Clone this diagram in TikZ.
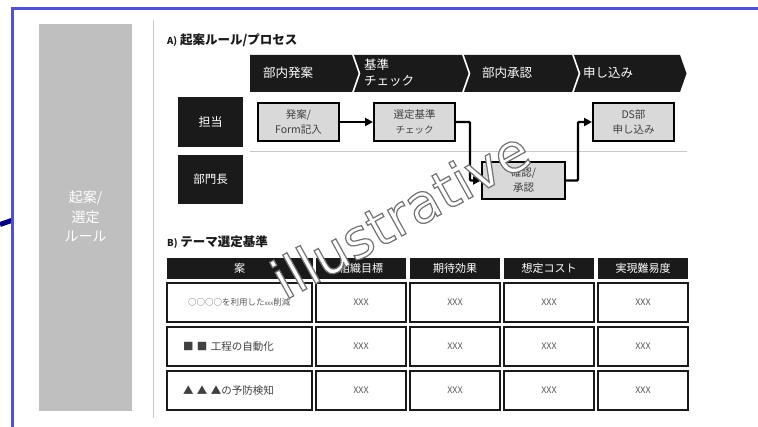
\documentclass[tikz,border=0pt]{standalone}
\usepackage{fontspec}
\setmainfont{Noto Sans CJK JP}
\newfontfamily\wmfont{DejaVu Sans}
\usetikzlibrary{arrows.meta}
\definecolor{cdark}{HTML}{1A1A1A}
\definecolor{cproc}{HTML}{D9D9D9}
\definecolor{cpanel}{HTML}{BFBFBF}
\definecolor{cframe}{HTML}{5252CC}
\definecolor{cnavy}{HTML}{00007F}
\definecolor{ctext}{HTML}{404040}
\definecolor{cxxx}{HTML}{595959}
\definecolor{csep}{HTML}{C8C8C8}
\tikzset{
  chevtxt/.style={text=white, font=\fontsize{12.5}{16}\selectfont, anchor=west, align=left, inner sep=0pt},
  rolebox/.style={fill=cdark, text=white, minimum width=65pt, minimum height=49pt, inner sep=0pt, font=\fontsize{12}{14}\selectfont},
  procbox/.style={draw=black, line width=2pt, fill=cproc, minimum width=81pt, minimum height=38pt, inner sep=0pt, align=center, text=ctext, font=\fontsize{10.5}{15}\selectfont},
  flow/.style={line width=2.2pt, -{Triangle[length=8pt,width=8pt]}},
  hdrcell/.style={fill=cdark, text=white, minimum height=21pt, inner sep=0pt, font=\fontsize{11}{13}\selectfont},
  datacell/.style={draw=cdark, line width=2pt, fill=white, minimum height=39pt, minimum width=90pt, inner sep=0pt, text=cxxx, font=\fontsize{9}{11}\selectfont},
  firstcell/.style={draw=cdark, line width=2pt, fill=white, minimum height=39pt, text width=113pt, inner xsep=16pt, inner ysep=0pt, align=left, text=ctext},
  titletxt/.style={anchor=west, inner sep=0pt, font=\fontsize{12.5}{14}\selectfont\bfseries, text=cdark},
  wm/.style={rotate=29, font=\wmfont\fontsize{54}{60}\selectfont, inner sep=0pt, text=white}
}
\begin{document}
\begin{tikzpicture}[x=1pt,y=-1pt]
\useasboundingbox (0,0) rectangle (758,427);
\fill[white] (0,0) rectangle (758,427);

% left navy stroke and blue frame
\coordinate (n1) at (0,224.5);
\coordinate (n2) at (13,220);
\draw[cnavy, line width=5pt] (n1) -- (n2);
\coordinate (f1) at (12.5,427);
\coordinate (f2) at (12.5,8.5);
\coordinate (f3) at (758,8.5);
\draw[cframe, line width=3pt] (f1) -- (f2) -- (f3);

% side panel
\fill[cpanel] (39,24) rectangle (132,411.5);
\node[text=white, align=center, inner sep=0pt, font=\fontsize{14}{19.5}\selectfont] (side) at (85.5,216.5) {起案/\\選定\\ルール};

% vertical separator
\coordinate (s1) at (153,20);
\coordinate (s2) at (153,418);
\draw[csep, line width=1pt] (s1) -- (s2);

% A) title
\node[titletxt] (ta) at (167,40) {{\fontsize{9.5}{11}\selectfont A)} 起案ルール/プロセス};

% chevrons
\fill[cdark] (250,55) -- (352,55) -- (358.5,73.5) -- (352,92) -- (250,92) -- cycle;
\fill[cdark] (354,55) -- (462,55) -- (468.5,73.5) -- (462,92) -- (354,92) -- (360.5,73.5) -- cycle;
\fill[cdark] (464,55) -- (572,55) -- (578.5,73.5) -- (572,92) -- (464,92) -- (470.5,73.5) -- cycle;
\fill[cdark] (574,55) -- (680,55) -- (686.5,73.5) -- (680,92) -- (574,92) -- (580.5,73.5) -- cycle;
\node[chevtxt] (c1) at (263,73) {部内発案};
\node[chevtxt] (c2) at (364,72.5) {基準\\チェック};
\node[chevtxt] (c3) at (482,73) {部内承認};
\node[chevtxt] (c4) at (583,73) {申し込み};

% roles
\node[rolebox, minimum height=50pt] (r1) at (210.5,122) {担当};
\node[rolebox, font=\fontsize{11.5}{14}\selectfont] (r2) at (210.5,179.5) {部門長};
\coordinate (h1) at (250,151);
\coordinate (h2) at (687,151);
\draw[csep, line width=0.8pt] (h1) -- (h2);

% process boxes
\node[procbox] (p1) at (298.5,122) {発案/\\Form記入};
\node[procbox] (p2) at (414.5,122) {選定基準\\{\fontsize{9.5}{12}\selectfont チェック}};
\node[procbox, minimum width=83pt, minimum height=37pt] (p3) at (523.5,180.5) {確認/\\承認};
\node[procbox] (p4) at (633.5,122) {DS部\\申し込み};
\draw[flow] (p1.east) -- (p2.west);
\draw[flow, rounded corners=1pt] (p2.east) -- ++(14,0) |- (p3.west);
\draw[flow, rounded corners=1pt] (p3.east) -- ++(12,0) |- (p4.west);

% B) title
\node[titletxt] (tb) at (167,242) {{\fontsize{9.5}{11}\selectfont B)} テーマ選定基準};

% table header
\node[hdrcell, minimum width=146pt] (hd1) at (239.5,268.5) {案};
\node[hdrcell, minimum width=90pt] (hd2) at (361,268.5) {組織目標};
\node[hdrcell, minimum width=90pt] (hd3) at (455,268.5) {期待効果};
\node[hdrcell, minimum width=90pt] (hd4) at (549,268.5) {想定コスト};
\node[hdrcell, minimum width=90pt] (hd5) at (643,268.5) {実現難易度};

% rows
\node[firstcell, font=\fontsize{8.5}{10}\selectfont, text=cxxx] (a1) at (239.5,302.5) {\hspace*{5pt}○○○○を利用した{\fontsize{6}{8}\selectfont xxx}削減};
\node[firstcell, font=\fontsize{10.5}{12}\selectfont] (a2) at (239.5,346.5) {■ ■ 工程の自動化};
\node[firstcell, font=\fontsize{10.5}{12}\selectfont] (a3) at (239.5,390.5) {▲ ▲ ▲の予防検知};
\foreach \r/\yy in {1/302.5,2/346.5,3/390.5}{
  \node[datacell] (b\r) at (361,\yy) {XXX};
  \node[datacell] (c\r x) at (455,\yy) {XXX};
  \node[datacell] (d\r) at (549,\yy) {XXX};
  \node[datacell] (e\r) at (643,\yy) {XXX};
}

% watermark (outlined text)
\node[wm] (wmark) at (400,214) {\special{pdf:code 2 Tr 1.2 w 0.45 G}illustrative\special{pdf:code 0 Tr}};
\end{tikzpicture}
\end{document}
